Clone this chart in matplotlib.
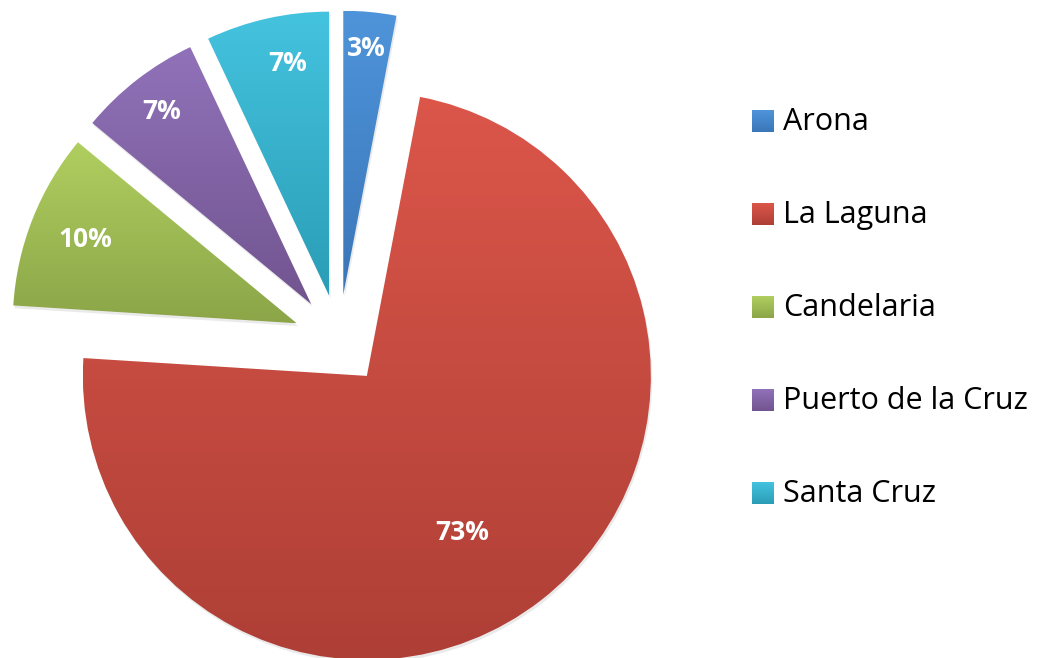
import matplotlib

matplotlib.use("Agg")
import matplotlib.pyplot as plt
import matplotlib.patheffects as pe
import numpy as np
from matplotlib.colors import to_rgb

# participación por municipio
municipios = ["Arona", "La Laguna", "Candelaria", "Puerto de la Cruz", "Santa Cruz"]
porcentajes = [3, 73, 10, 7, 7]
etiquetas = ["3%", "73%", "10%", "7%", "7%"]

# degradado de cada porción (arriba, abajo)
color_arriba = ["#4F94DA", "#DC564A", "#B0CF60", "#9172BA", "#44C3DF"]
color_abajo = ["#3A76B8", "#AE3F36", "#8BA548", "#71548F", "#2B9DB6"]

# posición de la etiqueta: distancia al vértice (fracción del radio) y giro en grados
dist_etiqueta = [0.87, 0.645, 0.80, 0.86, 0.83]
giro_etiqueta = [0, -6.5, 0, 0, -2.4]

W, H, DPI = 1046, 658, 100
CX, CY, R = 339, 340, 284  # centro y radio en píxeles


def gradiente(c1, c2, n=256):
    a, b = np.array(to_rgb(c1)), np.array(to_rgb(c2))
    t = np.linspace(0, 1, n)[:, None]
    return (a + (b - a) * t)[:, None, :]


fig = plt.figure(figsize=(W / DPI, H / DPI), dpi=DPI)
ax = fig.add_axes([0, 0, 1, 1])

wedges, _ = ax.pie(
    porcentajes, startangle=90, counterclock=False, radius=1,
    explode=[0.16] * len(porcentajes),
    wedgeprops=dict(linewidth=0, facecolor="none"),
)

for w, c1, c2, txt, d, g in zip(wedges, color_arriba, color_abajo, etiquetas,
                                dist_etiqueta, giro_etiqueta):
    w.set_path_effects([
        pe.SimplePatchShadow(offset=(1, -2), shadow_rgbFace="0.6", alpha=0.2),
        pe.Normal(),
    ])
    ext = w.get_path().get_extents()
    img = ax.imshow(gradiente(c1, c2), extent=(ext.x0, ext.x1, ext.y0, ext.y1),
                    origin="upper", aspect="auto", interpolation="bilinear", zorder=2)
    img.set_clip_path(w)
    ang = np.deg2rad((w.theta1 + w.theta2) / 2 + g)
    x = w.center[0] + d * w.r * np.cos(ang)
    y = w.center[1] + d * w.r * np.sin(ang)
    ax.text(x, y, txt, ha="center", va="center", color="white",
            fontsize=19, fontweight="bold", family="Open Sans", zorder=3)

ax.set_xlim(-CX / R, (W - CX) / R)
ax.set_ylim(-(H - CY) / R, CY / R)
ax.set_aspect("auto")
ax.axis("off")

# leyenda a la derecha
lax = fig.add_axes([0, 0, 1, 1])
lax.axis("off")
y0, paso = 121, 93
for i, (nombre, c1, c2) in enumerate(zip(municipios, color_arriba, color_abajo)):
    yc = y0 + i * paso
    lax.imshow(gradiente(c1, c2), extent=(752, 774, yc + 11, yc - 11),
               aspect="auto", interpolation="bilinear")
    lax.text(783, yc + 1, nombre, ha="left", va="center", fontsize=22,
             family="Open Sans", color="black")
lax.set_xlim(0, W)
lax.set_ylim(H, 0)

fig.savefig("out.png", dpi=DPI)
